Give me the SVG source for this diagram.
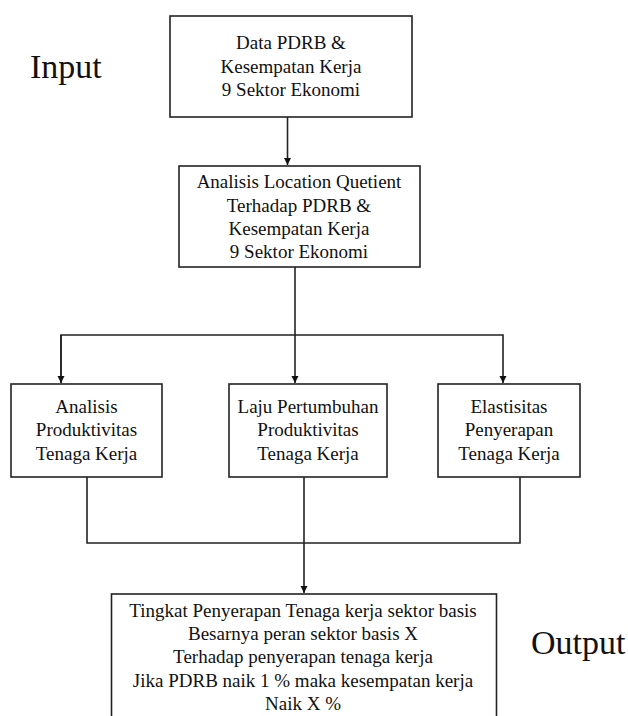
<svg xmlns="http://www.w3.org/2000/svg" width="628" height="716" viewBox="0 0 628 716">
<style>
.box{fill:#fff;stroke:#222;stroke-width:1.6}
.t{font-family:"Liberation Serif","Times New Roman",serif;font-size:19px;fill:#111;text-anchor:middle}
.big{font-family:"Liberation Serif","Times New Roman",serif;font-size:34px;fill:#111}
.ln{fill:none;stroke:#222;stroke-width:1.6}
</style>
<defs>
<marker id="ah" markerWidth="8" markerHeight="8" refX="7" refY="4" orient="auto" markerUnits="userSpaceOnUse">
<path d="M0,0.5 L7,4 L0,7.5 Z" fill="#111"/>
</marker>
</defs>
<rect width="628" height="716" fill="#fff"/>
<text class="big" x="30" y="78">Input</text>
<text class="big" x="531" y="654">Output</text>
<g id="connectors">
<path class="ln" d="M287.5,117 V165" marker-end="url(#ah)"/>
<path class="ln" d="M295,267 V383" marker-end="url(#ah)"/>
<path class="ln" d="M61,383 V335 H503 V383" marker-end="url(#ah)"/>
<path class="ln" d="M61,335 V383" marker-end="url(#ah)"/>
<path class="ln" d="M87,477 V543 H520 V477"/>
<path class="ln" d="M304,477 V593" marker-end="url(#ah)"/>
</g>
<g id="n1">
<rect class="box" x="170" y="16" width="242" height="101"/>
<text class="t" x="291" y="49">Data PDRB &amp;</text>
<text class="t" x="291" y="73">Kesempatan Kerja</text>
<text class="t" x="291" y="96">9 Sektor Ekonomi</text>
</g>
<g id="n2">
<rect class="box" x="179" y="166" width="241" height="101"/>
<text class="t" x="299" y="188">Analisis Location Quetient</text>
<text class="t" x="299" y="212">Terhadap PDRB &amp;</text>
<text class="t" x="299" y="235">Kesempatan Kerja</text>
<text class="t" x="299" y="258">9 Sektor Ekonomi</text>
</g>
<g id="n3">
<rect class="box" x="11" y="384" width="151" height="93"/>
<text class="t" x="86.5" y="413">Analisis</text>
<text class="t" x="86.5" y="436">Produktivitas</text>
<text class="t" x="86.5" y="460">Tenaga Kerja</text>
</g>
<g id="n4">
<rect class="box" x="229" y="384" width="158" height="93"/>
<text class="t" x="308" y="413">Laju Pertumbuhan</text>
<text class="t" x="308" y="436">Produktivitas</text>
<text class="t" x="308" y="460">Tenaga Kerja</text>
</g>
<g id="n5">
<rect class="box" x="438" y="384" width="142" height="93"/>
<text class="t" x="509" y="413">Elastisitas</text>
<text class="t" x="509" y="436">Penyerapan</text>
<text class="t" x="509" y="460">Tenaga Kerja</text>
</g>
<g id="n6">
<rect class="box" x="111.5" y="594" width="385" height="140"/>
<text class="t" x="303" y="617">Tingkat Penyerapan Tenaga kerja sektor basis</text>
<text class="t" x="303" y="640">Besarnya peran sektor basis X</text>
<text class="t" x="303" y="663">Terhadap penyerapan tenaga kerja</text>
<text class="t" x="303" y="687">Jika PDRB naik 1 % maka kesempatan kerja</text>
<text class="t" x="303" y="710">Naik X %</text>
</g>
</svg>
